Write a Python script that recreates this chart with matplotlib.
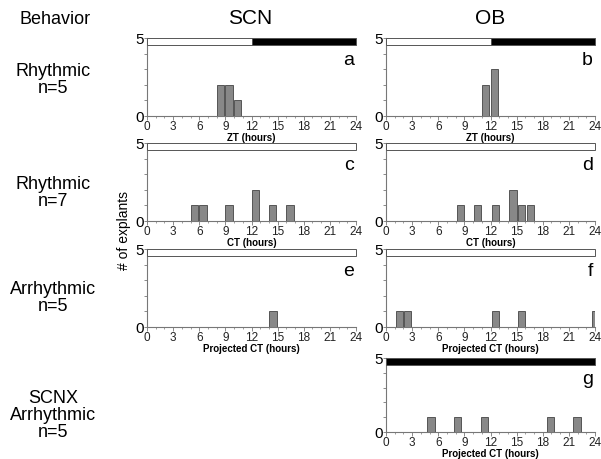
import matplotlib.pyplot as plt
from matplotlib.patches import Rectangle

plt.rcParams['font.family'] = ['Liberation Sans', 'DejaVu Sans']

# bin start (hours) and counts for each panel
a_x = [8, 9, 10]
a_n = [2, 2, 1]
b_x = [11, 12]
b_n = [2, 3]
c_x = [5, 6, 9, 12, 14, 16]
c_n = [1, 1, 1, 2, 1, 1]
d_x = [8.1, 10.1, 12.15, 14.15, 15.15, 16.15]
d_n = [1, 1, 1, 2, 1, 1]
e_x = [14.05]
e_n = [1]
f_x = [1.1, 2.05, 12.15, 15.15, 23.6]
f_n = [1, 1, 1, 1, 1]
g_x = [4.75, 7.8, 10.9, 18.45, 21.5]
g_n = [1, 1, 1, 1, 1]

# light/dark bar segments: (start, end, colour)
ld_entrained = [(0, 12, 'white'), (12, 24, 'black')]
ld_constant = [(0, 24, 'white')]
ld_dark = [(0, 24, 'black')]

xticks = [0, 3, 6, 9, 12, 15, 18, 21, 24]

W, H = 601, 460
fig = plt.figure(figsize=(W / 100, H / 100), dpi=100)


def panel(px0, py5, xs, ns, ld, letter, xlabel, h=78):
    px1 = px0 + 209
    py0 = py5 + h
    ax = fig.add_axes([px0 / W, 1 - py0 / H, (px1 - px0) / W, (py0 - py5) / H])
    ax.bar(xs, ns, width=0.85, align='edge', color='#888888',
           edgecolor='#444444', linewidth=0.6, zorder=3)
    for s, e, col in ld:
        ax.add_patch(Rectangle((s, 4.55), e - s, 0.45, facecolor=col,
                               edgecolor='#555555', linewidth=0.7, zorder=4,
                               clip_on=False))
    ax.set_xlim(0, 24)
    ax.set_ylim(0, 5)
    for sp in ['top', 'right']:
        ax.spines[sp].set_visible(False)
    for sp in ['left', 'bottom']:
        ax.spines[sp].set_color('#777777')
        ax.spines[sp].set_linewidth(0.8)
    ax.set_xticks(xticks)
    ax.set_xticks(range(25), minor=True)
    ax.set_yticks(range(6))
    ax.set_yticklabels(['0', '', '', '', '', '5'], fontsize=11)
    ax.tick_params(axis='x', labelsize=8.5, length=3, width=0.6,
                   color='#777777', pad=0, labelcolor='#222222')
    ax.tick_params(axis='x', which='minor', length=1.5, width=0.5, color='#777777')
    ax.tick_params(axis='y', length=2.5, width=0.6, color='#777777', pad=0)
    ax.set_xlabel(xlabel, fontsize=7, fontweight='bold', labelpad=0)
    ax.text(0.99, 0.72, letter, transform=ax.transAxes, ha='right',
            va='center', fontsize=14)
    return ax


panel(147, 39, a_x, a_n, ld_entrained, 'a', 'ZT (hours)')
panel(386, 39, b_x, b_n, ld_entrained, 'b', 'ZT (hours)')
panel(147, 144, c_x, c_n, ld_constant, 'c', 'CT (hours)')
panel(386, 144, d_x, d_n, ld_constant, 'd', 'CT (hours)')
panel(147, 250, e_x, e_n, ld_constant, 'e', 'Projected CT (hours)')
panel(386, 250, f_x, f_n, ld_constant, 'f', 'Projected CT (hours)')
panel(386, 359, g_x, g_n, ld_dark, 'g', 'Projected CT (hours)', h=74)

fig.text(250 / W, 1 - 19 / H, 'SCN', ha='center', va='center', fontsize=15)
fig.text(490 / W, 1 - 19 / H, 'OB', ha='center', va='center', fontsize=15)
fig.text(55 / W, 1 - 19 / H, 'Behavior', ha='center', va='center', fontsize=13)
rows = [('Rhythmic\nn=5', 80), ('Rhythmic\nn=7', 193),
        ('Arrhythmic\nn=5', 298), ('SCNX\nArrhythmic\nn=5', 416)]
for txt, y in rows:
    fig.text(53 / W, 1 - y / H, txt, ha='center', va='center', fontsize=13,
             linespacing=1.0)
fig.text(124 / W, 1 - 230 / H, '# of explants', ha='center', va='center',
         rotation=90, fontsize=10)

fig.savefig('out.png', dpi=100)
